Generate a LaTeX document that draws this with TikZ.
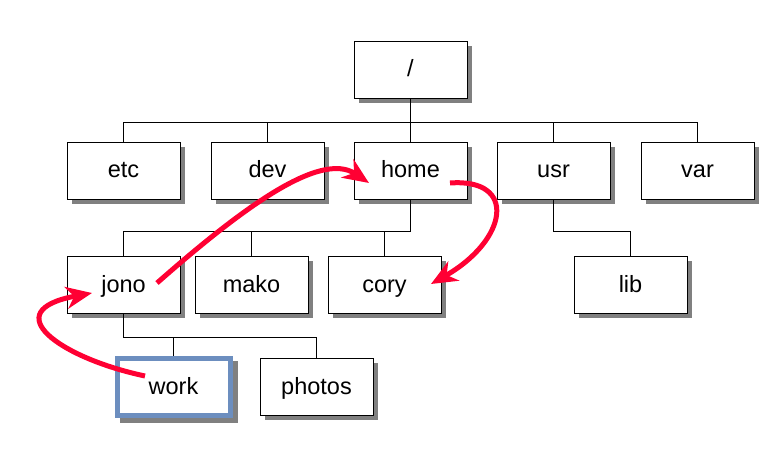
\documentclass[tikz,border=0pt]{standalone}
\usepackage{fontspec}
\setmainfont{Liberation Sans}
\usetikzlibrary{backgrounds,arrows.meta}
\definecolor{jumpred}{RGB}{255,0,51}
\definecolor{workblue}{RGB}{108,142,191}
\begin{document}
\begin{tikzpicture}[x=1pt,y=1pt,
    dir/.style={shape = rectangle, draw, fill=white, line width=0.9pt, minimum width=113pt, minimum height=57pt,
        text height=20pt, text depth=5pt, font=\fontsize{23.5}{27}\selectfont},
    jump/.style={jumpred, line width=5pt, -{Stealth[length=26pt,width=22pt,inset=8pt]}}]
    \useasboundingbox (0, 0) rectangle (781, 461);
    \node (Root) [dir] at (410.5, 391.5) {/};
    \node (Etc) [dir] at (123.5, 290.5) {etc};
    \node (Dev) [dir] at (267.5, 290.5) {dev};
    \node (Home) [dir] at (410.5, 290.5) {home};
    \node (Usr) [dir] at (553.5, 290.5) {usr};
    \node (Var) [dir] at (697.5, 290.5) {var};
    \node (Jono) [dir] at (123.5, 176.5) {jono};
    \node (Mako) [dir] at (251.5, 176.5) {mako};
    \node (Cory) [dir] at (384.5, 176.5) {cory};
    \node (Lib) [dir] at (630.5, 176.5) {lib};
    \node (Work) [dir, draw=workblue, line width=5pt] at (173.5, 74.5) {work};
    \node (Photos) [dir] at (316.5, 74.5) {photos};
    % shadows
    \begin{scope}[on background layer]
        \foreach \n in {Root, Etc, Dev, Home, Usr, Var, Jono, Mako, Cory, Lib, Work, Photos}
            \fill [black!50] ([shift={(5, -5)}]\n.south west) rectangle ([shift={(5, -5)}]\n.north east);
    \end{scope}
    % tree
    \foreach \n in {Etc, Dev, Home, Usr, Var}
        \draw [line width=0.9pt] (Root.south) -- ++(0, -24) -| (\n.north);
    \foreach \n in {Jono, Mako, Cory}
        \draw [line width=0.9pt] (Home.south) -- ++(0, -32) -| (\n.north);
    \draw [line width=0.9pt] (Usr.south) -- ++(0, -32) -| (Lib.north);
    \foreach \n in {Work, Photos}
        \draw [line width=0.9pt] (Jono.south) -- ++(0, -24) -| (\n.north);
    % jumps
    \draw [jump] ([shift={(33.5, 1.5)}]Jono.center) .. controls (240, 251) and (320, 311) .. ([shift={(-41.5, -12.5)}]Home.center);
    \draw [jump] ([shift={(39.5, -12.5)}]Home.center) .. controls (518, 283) and (508, 221) .. ([shift={(46.5, 0.5)}]Cory.center);
    \draw [jump] ([shift={(-28.5, 10.5)}]Work.center) .. controls (60, 103) and (-5, 150) .. ([shift={(-31.5, -8.5)}]Jono.center);
\end{tikzpicture}
\end{document}
